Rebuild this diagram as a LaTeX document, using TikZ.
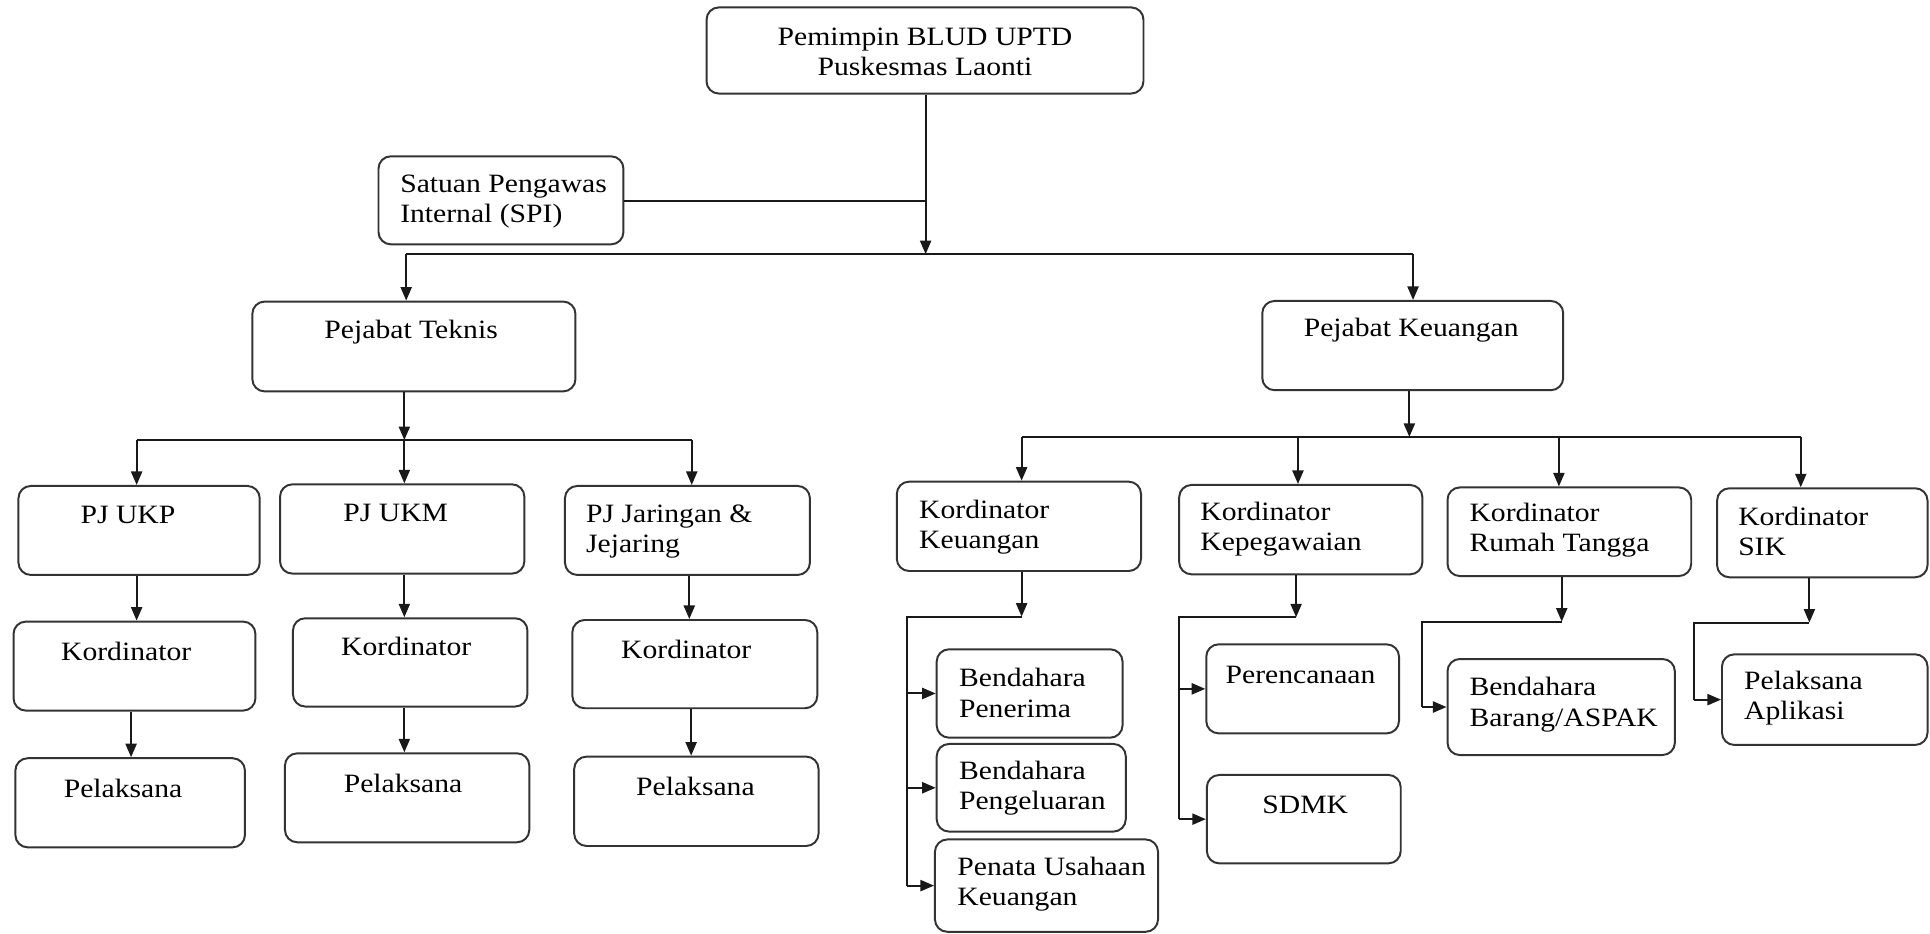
\documentclass[tikz,border=0pt]{standalone}
\usepackage{fontspec}
\setmainfont[FakeStretch=1.12]{Liberation Serif}
\usetikzlibrary{arrows.meta,fit}
\newcommand\obox[5]{\node[obx, fit={(#2,#3)(#4,#5)}] (#1) {};}
\begin{document}
\begin{tikzpicture}[x=1pt,y=-1pt,
  obx/.style={draw=black!80, line width=1.6pt, rounded corners=10pt, inner sep=0pt},
  lbl/.style={inner sep=0pt, font=\fontsize{21.5}{24.5}\selectfont, text=black},
  lblc/.style={lbl, align=center, anchor=center},
  lbll/.style={lbl, align=left, anchor=west},
  ln/.style={draw=black!90, line width=1.6pt},
  arr/.style={ln, -{Triangle[length=11pt,width=9pt]}}]
\useasboundingbox (0,0) rectangle (1568,758);

% boxes
\obox{top}{574}{6}{929}{76}
\node[lblc] (top-t) at (751.5,42) {Pemimpin BLUD UPTD\\Puskesmas Laonti};
\obox{spi}{307.5}{127}{506.5}{198.5}
\node[lbll] (spi-t) at (325,164) {Satuan Pengawas\\Internal (SPI)};
\obox{pt}{205}{245}{467.5}{318}
\node[lblc] (pt-t) at (334,269.5) {Pejabat Teknis};
\obox{pk}{1025.5}{244.5}{1270}{317}
\node[lblc] (pk-t) at (1146.5,268) {Pejabat Keuangan};

\obox{ukp}{15}{394.8}{211}{467.1}
\node[lblc] (ukp-t) at (104,418.4) {PJ UKP};
\obox{ukm}{227.5}{393.5}{426}{466}
\node[lblc] (ukm-t) at (321.5,417) {PJ UKM};
\obox{pjj}{459}{394.8}{658}{467.1}
\node[lbll] (pjj-t) at (476,432) {PJ Jaringan \&\\Jejaring};

\obox{k1}{11}{505}{207.5}{577.3}
\node[lblc] (k1-t) at (102.5,529.4) {Kordinator};
\obox{k2}{238}{502.3}{428.5}{574}
\node[lblc] (k2-t) at (330,525.4) {Kordinator};
\obox{k3}{465}{503.7}{664}{575.4}
\node[lblc] (k3-t) at (557.5,528) {Kordinator};

\obox{p1}{12.5}{616}{199}{688.4}
\node[lblc] (p1-t) at (100,640.4) {Pelaksana};
\obox{p2}{231.5}{612}{430}{684.3}
\node[lblc] (p2-t) at (327.5,636.4) {Pelaksana};
\obox{p3}{466.5}{614.7}{665}{687.3}
\node[lblc] (p3-t) at (565,639) {Pelaksana};

\obox{kk}{728.6}{391.3}{927}{463.9}
\node[lbll] (kk-t) at (746.6,428) {Kordinator\\Keuangan};
\obox{kp}{958}{394}{1155.6}{466.6}
\node[lbll] (kp-t) at (975,430) {Kordinator\\Kepegawaian};
\obox{kr}{1176}{396}{1374}{468}
\node[lbll] (kr-t) at (1193.7,431) {Kordinator\\Rumah Tangga};
\obox{ks}{1395}{396.7}{1566}{469}
\node[lbll] (ks-t) at (1412,432) {Kordinator\\SIK};

\obox{bp}{761}{527.5}{912}{599.3}
\node[lbll] (bp-t) at (779,563) {Bendahara\\Penerima};
\obox{bg}{761}{604.4}{914.6}{675.6}
\node[lbll] (bg-t) at (779,640) {Bendahara\\Pengeluaran};
\obox{pu}{759.6}{682}{940.8}{757}
\node[lbll] (pu-t) at (777.6,718) {Penata Usahaan\\Keuangan};

\obox{per}{980}{523.5}{1136.6}{595.8}
\node[lblc] (per-t) at (1056.6,548.4) {Perencanaan};
\obox{sdmk}{980.5}{629.6}{1138}{701.4}
\node[lblc] (sdmk-t) at (1060.4,654) {SDMK};

\obox{bb}{1176}{535.4}{1360.7}{613.4}
\node[lbll] (bb-t) at (1193.7,572.5) {Bendahara\\Barang/ASPAK};
\obox{pa}{1399}{531.6}{1566}{605.2}
\node[lbll] (pa-t) at (1416.8,567.5) {Pelaksana\\Aplikasi};

% top connectors
\coordinate (j0) at (752,163.6);
\coordinate (b1) at (752,206.5);
\coordinate (b1w) at (330,206.5);
\coordinate (b1e) at (1148,206.5);
\draw[arr] (top.south -| b1) -- (b1);
\draw[ln] (spi.east |- j0) -- (j0);
\draw[ln] (b1w) -- (b1e);
\draw[arr] (b1w) -- (b1w |- pt.north);
\draw[arr] (b1e) -- (b1e |- pk.north);

% left branch
\coordinate (b2m) at (328.5,357.5);
\coordinate (b2w) at (111,357.5);
\coordinate (b2e) at (562,357.5);
\draw[arr] (pt.south -| b2m) -- (b2m);
\draw[ln] (b2w) -- (b2e);
\draw[arr] (b2w) -- (b2w |- ukp.north);
\draw[arr] (b2m) -- (b2m |- ukm.north);
\draw[arr] (b2e) -- (b2e |- pjj.north);

\coordinate (c1a) at (111,0);
\coordinate (c1b) at (106.5,0);
\coordinate (c2) at (328.5,0);
\coordinate (c3a) at (560,0);
\coordinate (c3b) at (561.5,0);
\draw[arr] (ukp.south -| c1a) -- (k1.north -| c1a);
\draw[arr] (k1.south -| c1b) -- (p1.north -| c1b);
\draw[arr] (ukm.south -| c2) -- (k2.north -| c2);
\draw[arr] (k2.south -| c2) -- (p2.north -| c2);
\draw[arr] (pjj.south -| c3a) -- (k3.north -| c3a);
\draw[arr] (k3.south -| c3b) -- (p3.north -| c3b);

% right branch
\coordinate (b3) at (1145,355);
\coordinate (b3w) at (830,355);
\coordinate (b3e) at (1463,355);
\coordinate (b3a) at (1054.5,355);
\coordinate (b3b) at (1266.5,355);
\draw[arr] (pk.south -| b3) -- (b3);
\draw[ln] (b3w) -- (b3e);
\draw[arr] (b3w) -- (b3w |- kk.north);
\draw[arr] (b3a) -- (b3a |- kp.north);
\draw[arr] (b3b) -- (b3b |- kr.north);
\draw[arr] (b3e) -- (b3e |- ks.north);

% Keuangan sub
\coordinate (kkj) at (830,501);
\coordinate (s1) at (736.8,0);
\draw[arr] (kk.south -| kkj) -- (kkj);
\draw[ln] (kkj) -- (kkj -| s1) -- (s1 |- pu.west);
\draw[arr] (s1 |- bp.west) -- (bp.west);
\draw[arr] (s1 |- bg.west) -- (bg.west);
\draw[arr] (s1 |- pu.west) -- (pu.west);

% Kepegawaian sub
\coordinate (kpj) at (1053,501.5);
\coordinate (s2) at (958,0);
\draw[arr] (kp.south -| kpj) -- (kpj);
\draw[ln] (kpj) -- (kpj -| s2) -- (s2 |- sdmk.west);
\draw[arr] (s2 |- per.west) -- (per.west);
\draw[arr] (s2 |- sdmk.west) -- (sdmk.west);

% Rumah Tangga sub
\coordinate (krj) at (1268.8,505);
\coordinate (s3) at (1155.6,0);
\draw[arr] (kr.south -| krj) -- (krj);
\draw[ln] (krj) -- (krj -| s3) -- (s3 |- bb.west);
\draw[arr] (s3 |- bb.west) -- (bb.west);

% SIK sub
\coordinate (ksj) at (1470,505.8);
\coordinate (s4) at (1376,0);
\draw[arr] (ks.south -| ksj) -- (ksj);
\draw[ln] (ksj) -- (ksj -| s4) -- (s4 |- pa.west);
\draw[arr] (s4 |- pa.west) -- (pa.west);
\end{tikzpicture}
\end{document}
